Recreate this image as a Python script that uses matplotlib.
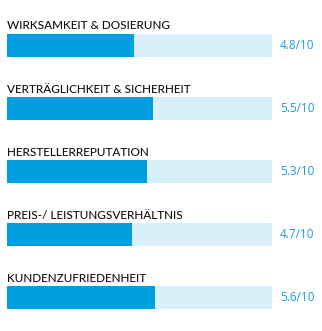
import matplotlib
matplotlib.use("Agg")
import matplotlib.pyplot as plt

# Data
categories = [
    "WIRKSAMKEIT & DOSIERUNG",
    "VERTRÄGLICHKEIT & SICHERHEIT",
    "HERSTELLERREPUTATION",
    "PREIS-/ LEISTUNGSVERHÄLTNIS",
    "KUNDENZUFRIEDENHEIT",
]
scores = [4.8, 5.5, 5.3, 4.7, 5.6]
max_score = 10

fill_color = "#009fdf"
track_color = "#d9f0fb"
value_color = "#1a9ad6"

plt.rcParams["font.family"] = ["Lato", "DejaVu Sans"]

fig = plt.figure(figsize=(3.22, 3.31), dpi=100)
fig.patch.set_facecolor("white")

# axes spans the track width, full height
ax = fig.add_axes([7 / 322, 0, 265 / 322, 1])
ax.set_xlim(0, max_score)
pitch = 63.1
top_center = 45.5
ax.set_ylim((331 - top_center) / pitch, -top_center / pitch)
ax.axis("off")

ypos = list(range(len(categories)))
bar_h = 23 / pitch

ax.barh(ypos, [max_score] * len(ypos), height=bar_h, color=track_color, left=0)
ax.barh(ypos, scores, height=bar_h, color=fill_color, left=0)

for i, (cat, s) in enumerate(zip(categories, scores)):
    ax.text(0, i - 16 / pitch, cat, ha="left", va="baseline",
            fontsize=8.5, color="#111111", fontweight="medium", clip_on=False)
    ax.text(10.3, i, f"{s:.1f}/10", ha="left", va="center",
            fontsize=8.5, color=value_color, family="Open Sans", clip_on=False)

fig.savefig("out.png", dpi=100, facecolor="white")
